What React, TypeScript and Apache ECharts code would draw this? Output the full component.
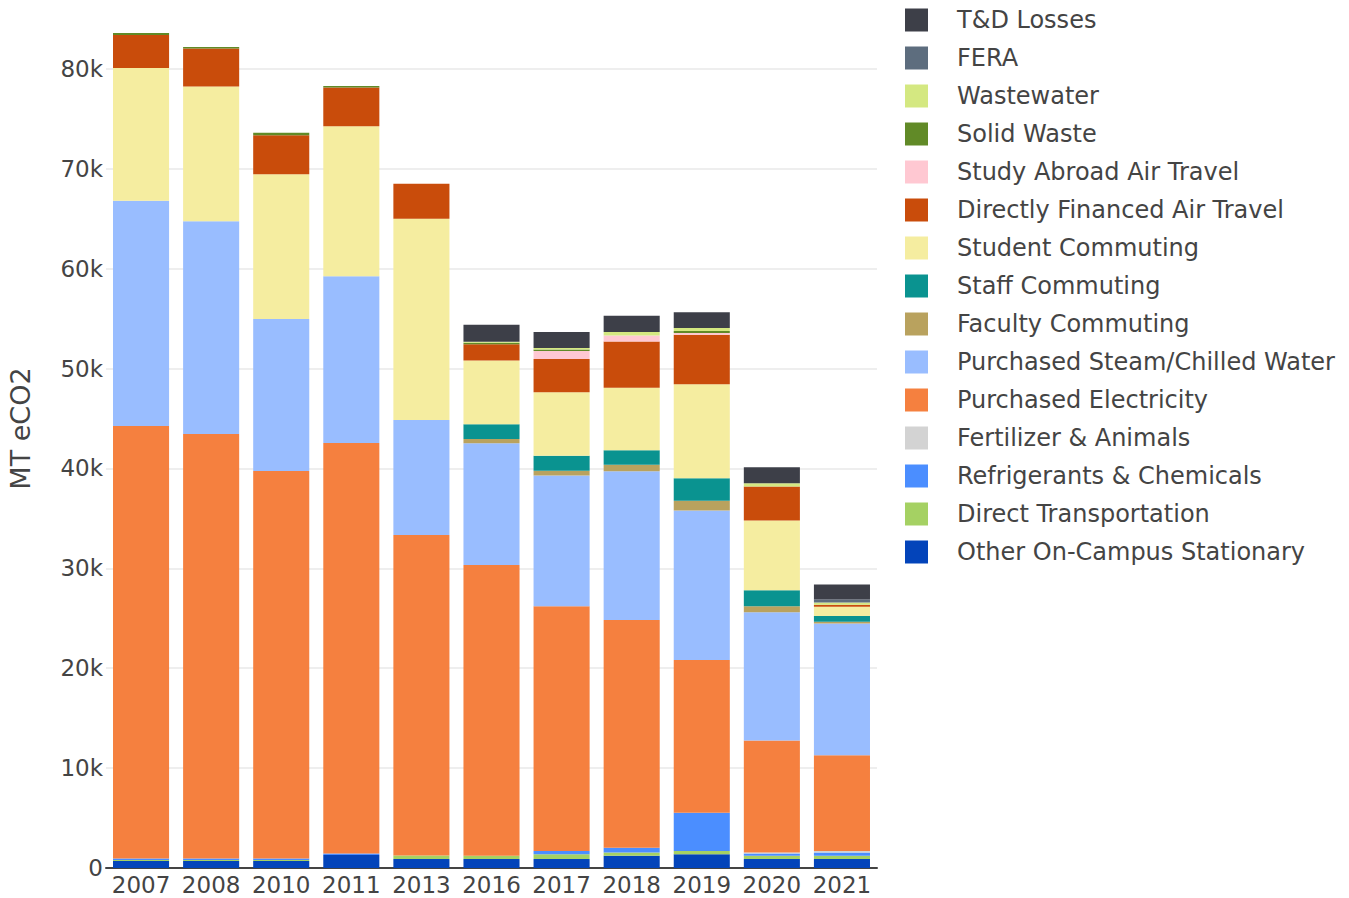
import React, { useEffect, useRef } from "react";
import * as echarts from "echarts";

const years = ["2007", "2008", "2010", "2011", "2013", "2016", "2017", "2018", "2019", "2020", "2021"];

const otherOnCampus = [700, 700, 700, 1300, 900, 900, 900, 1230, 1370, 900, 900];
const directTransport = [100, 100, 100, 0, 350, 330, 470, 330, 330, 330, 330];
const refrigerants = [150, 150, 150, 150, 0, 0, 330, 470, 3830, 230, 330];
const fertilizer = [0, 0, 0, 0, 0, 0, 0, 0, 0, 100, 130];
const electricity = [43300, 42500, 38800, 41100, 32100, 29100, 24500, 22800, 15300, 11200, 9600];
const steam = [22550, 21300, 15200, 16700, 11500, 12200, 13100, 14900, 14960, 12840, 13200];
const faculty = [0, 0, 0, 0, 0, 430, 470, 630, 970, 600, 160];
const staff = [0, 0, 0, 0, 0, 1470, 1500, 1470, 2270, 1600, 570];
const student = [13300, 13500, 14500, 15000, 20150, 6370, 6370, 6240, 9410, 7000, 930];
const airTravel = [3300, 3800, 3900, 3900, 3500, 1640, 3330, 4650, 4940, 3400, 200];
const studyAbroad = [0, 0, 0, 0, 0, 0, 800, 600, 170, 0, 0];
const solidWaste = [200, 150, 250, 130, 0, 150, 150, 0, 200, 0, 0];
const wastewater = [0, 0, 0, 0, 0, 100, 150, 330, 300, 330, 240];
const fera = [0, 0, 0, 0, 0, 0, 0, 0, 0, 0, 300];
const tdLosses = [0, 0, 0, 0, 0, 1700, 1600, 1630, 1600, 1600, 1500];

const seriesDefs: [string, number[], string][] = [
  ["Other On-Campus Stationary", otherOnCampus, "#0344ba"],
  ["Direct Transportation", directTransport, "#a5d163"],
  ["Refrigerants & Chemicals", refrigerants, "#4b8eff"],
  ["Fertilizer & Animals", fertilizer, "#d3d3d3"],
  ["Purchased Electricity", electricity, "#f5803f"],
  ["Purchased Steam/Chilled Water", steam, "#99bdff"],
  ["Faculty Commuting", faculty, "#b9a25e"],
  ["Staff Commuting", staff, "#0a9390"],
  ["Student Commuting", student, "#f5eda0"],
  ["Directly Financed Air Travel", airTravel, "#c94c0b"],
  ["Study Abroad Air Travel", studyAbroad, "#ffc8d2"],
  ["Solid Waste", solidWaste, "#618a27"],
  ["Wastewater", wastewater, "#d4e881"],
  ["FERA", fera, "#5d6d7e"],
  ["T&D Losses", tdLosses, "#3d3f48"],
];

const FONT = "DejaVu Sans";
const TEXT = "#444444";

export default function App() {
  const ref = useRef<HTMLDivElement>(null);
  useEffect(() => {
    if (!ref.current) return;
    const chart = echarts.init(ref.current, undefined, { renderer: "svg" });
    chart.setOption({
      animation: false,
      textStyle: { fontFamily: FONT },
      grid: { left: 106, right: 472, top: -11, bottom: 30, containLabel: false, outerBoundsMode: "none" },
      legend: {
        orient: "vertical",
        left: 900,
        top: 3,
        itemWidth: 23,
        itemHeight: 23,
        itemGap: 14,
        icon: "rect",
        data: seriesDefs.map((s) => s[0]).reverse(),
        textStyle: { fontFamily: FONT, fontSize: 24, color: TEXT, padding: [0, 0, 0, 24] },
      },
      xAxis: {
        type: "category",
        data: years,
        axisLine: { show: true, lineStyle: { color: "#444", width: 2 } },
        axisTick: { show: false },
        axisLabel: { fontFamily: FONT, fontSize: 23, color: TEXT, margin: 5, interval: 0, hideOverlap: false },
      },
      yAxis: {
        type: "value",
        min: 0,
        max: 88000,
        interval: 10000,
        name: "MT eCO2",
        nameLocation: "middle",
        nameGap: 72,
        nameRotate: 90,
        nameTextStyle: { fontFamily: FONT, fontSize: 27, color: TEXT },
        axisLine: { show: false },
        axisTick: { show: false },
        axisLabel: {
          fontFamily: FONT,
          fontSize: 23,
          color: TEXT,
          margin: 3,
          showMaxLabel: false,
          formatter: (v: number) => (v === 0 ? "0" : v / 1000 + "k"),
        },
        splitLine: { show: true, lineStyle: { color: "#eeeeee", width: 2 } },
      },
      series: seriesDefs.map(([name, data, color]) => ({
        name,
        type: "bar",
        stack: "total",
        data,
        barWidth: "80%",
        itemStyle: { color },
        emphasis: { disabled: true },
      })),
    });
    return () => chart.dispose();
  }, []);
  return <div ref={ref} style={{ position: "absolute", left: 0, top: 0, width: 1349, height: 898 }} />;
}
